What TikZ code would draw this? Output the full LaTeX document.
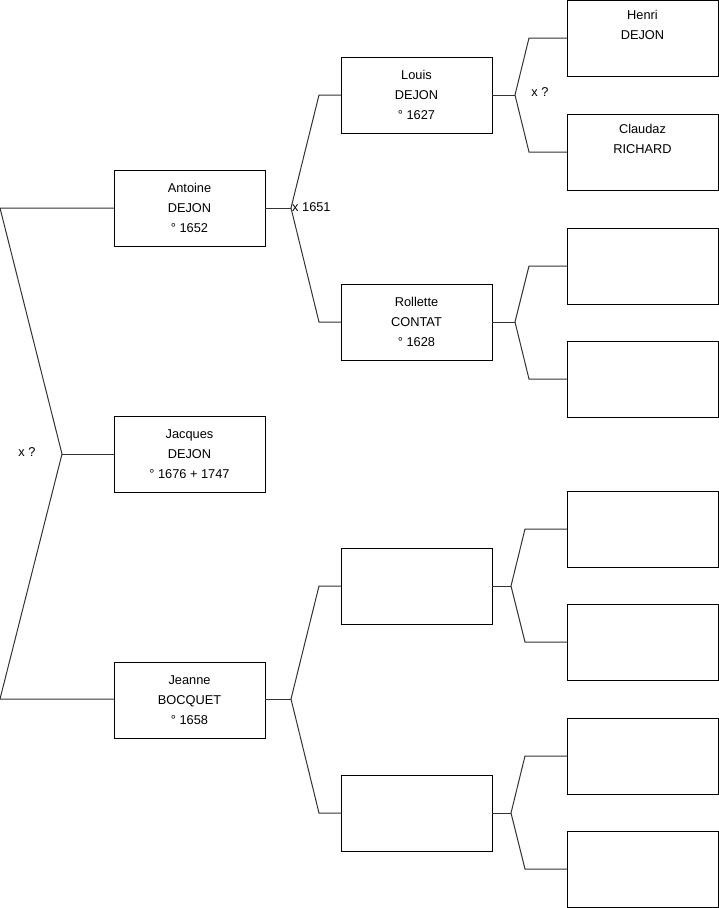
\documentclass[tikz,border=0pt]{standalone}
\usepackage{fontspec}
\setmainfont{Liberation Sans}
\begin{document}
\begin{tikzpicture}[x=1pt,y=-1pt,
  person/.style={draw=black,line width=1pt,rectangle,minimum width=151pt,minimum height=76pt,
    inner sep=0pt,outer sep=0pt,align=center,font=\fontsize{12.8}{20}\selectfont},
  conn/.style={draw=black!80,line width=1pt},
  lbl/.style={font=\fontsize{12.8}{14}\selectfont,inner sep=0pt}]
\useasboundingbox (0,0) rectangle (719,908);
% generation 1
\node[person] (jac) at (189.5,454) {Jacques\\DEJON\\° 1676 + 1747};
% generation 2
\node[person] (ant) at (189.5,208) {Antoine\\DEJON\\° 1652};
\node[person] (jea) at (189.5,700) {Jeanne\\BOCQUET\\° 1658};
% generation 3
\node[person] (lou) at (416.5,95) {Louis\\DEJON\\° 1627};
\node[person] (rol) at (416.5,322) {Rollette\\CONTAT\\° 1628};
\node[person] (e1) at (416.5,586) {};
\node[person] (e2) at (416.5,813) {};
% generation 4
\node[person] (hen) at (642.5,38) {Henri\\DEJON\\\strut};
\node[person] (cla) at (642.5,152) {Claudaz\\RICHARD\\\strut};
\node[person] (r3) at (642.5,266) {};
\node[person] (r4) at (642.5,379) {};
\node[person] (r5) at (642.5,529) {};
\node[person] (r6) at (642.5,642) {};
\node[person] (r7) at (642.5,756) {};
\node[person] (r8) at (642.5,869) {};
% junctions
\coordinate (t0) at (0,208);
\coordinate (j0) at (62,454);
\coordinate (b0) at (0,699);
\coordinate (ja) at (291,208);
\coordinate (jau) at (319,95);
\coordinate (jad) at (319,322);
\coordinate (jj) at (291,699);
\coordinate (jju) at (319,586);
\coordinate (jjd) at (319,813);
\coordinate (jl) at (515,95);
\coordinate (jlu) at (529,38);
\coordinate (jld) at (529,152);
\coordinate (jr) at (515,322);
\coordinate (jru) at (529,266);
\coordinate (jrd) at (529,379);
\coordinate (je1) at (511,586);
\coordinate (je1u) at (525,529);
\coordinate (je1d) at (525,642);
\coordinate (je2) at (511,813);
\coordinate (je2u) at (525,756);
\coordinate (je2d) at (525,869);
% connectors
\draw[conn] (ant.west |- t0) -- (t0) -- (j0) -- (b0) -- (jea.west |- b0);
\draw[conn] (j0) -- (jac.west);
\draw[conn] (ant.east) -- (ja);
\draw[conn] (lou.west) -- (jau) -- (ja) -- (jad) -- (rol.west);
\draw[conn] (jea.east |- jj) -- (jj);
\draw[conn] (e1.west) -- (jju) -- (jj) -- (jjd) -- (e2.west);
\draw[conn] (lou.east) -- (jl);
\draw[conn] (hen.west) -- (jlu) -- (jl) -- (jld) -- (cla.west);
\draw[conn] (rol.east) -- (jr);
\draw[conn] (r3.west) -- (jru) -- (jr) -- (jrd) -- (r4.west);
\draw[conn] (e1.east) -- (je1);
\draw[conn] (r5.west) -- (je1u) -- (je1) -- (je1d) -- (r6.west);
\draw[conn] (e2.east) -- (je2);
\draw[conn] (r7.west) -- (je2u) -- (je2) -- (je2d) -- (r8.west);
% labels
\node[lbl] (m0) at (27,452) {x ?};
\node[lbl,anchor=west] (m1) at (292,207) {x 1651};
\node[lbl] (m2) at (540,92) {x ?};
\end{tikzpicture}
\end{document}
